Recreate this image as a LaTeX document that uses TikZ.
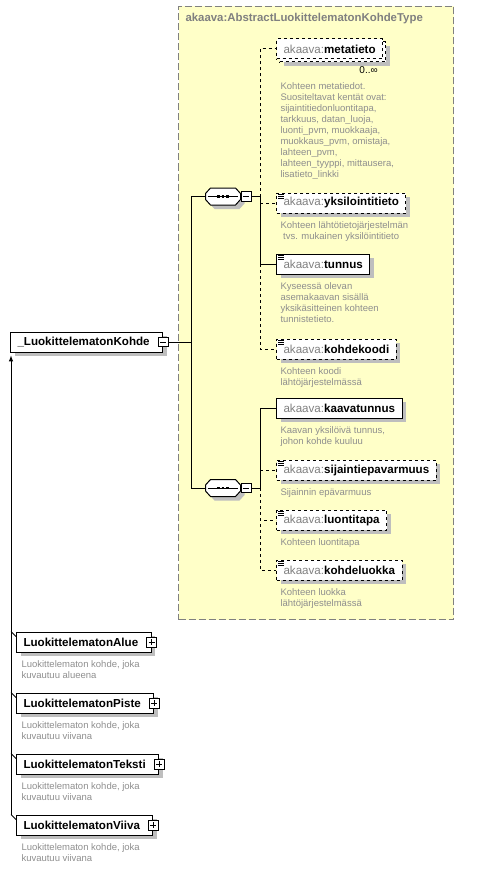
\documentclass[tikz,border=0pt]{standalone}
\usepackage{fontspec}
\setmainfont{Liberation Sans}
\usetikzlibrary{arrows,positioning,shadows}
\definecolor{typebg}{HTML}{FFFFC8}
\definecolor{prefixgray}{HTML}{808080}
\definecolor{docgray}{HTML}{8E8E8E}
\definecolor{shadowgray}{HTML}{BEBEBE}
\newcommand{\ak}[1]{{\mdseries\color{prefixgray}akaava:}#1}

\begin{document}
\begin{tikzpicture}[x=1pt,y=-1pt,line width=1pt,>=latex,
  shad/.style={drop shadow={shadow xshift=#1,shadow yshift=-#1,fill=shadowgray,opacity=1}},
  shad/.default=4pt,
  box/.style={draw,fill=white,anchor=west,minimum height=20pt,inner xsep=7pt,inner ysep=0pt,
    font=\fontsize{11.6}{13}\selectfont\bfseries},
  elem/.style={box,shad},
  opt/.style={elem,dashed},
  multi/.style={copy shadow={shadow xshift=3pt,shadow yshift=-3pt,draw,dashed,fill=white}},
  doc/.style={path picture={\foreach \i in {1.5pt,3.5pt,5.5pt}
    \draw[solid,line width=.8pt] ([xshift=1.5pt,yshift=-\i]path picture bounding box.north west) -- +(6pt,0pt);}},
  seq/.style={minimum width=34pt,minimum height=16pt,inner sep=0pt},
  minus/.style={draw,fill=white,solid,line width=.8pt,minimum width=10pt,minimum height=9.5pt,inner sep=0pt,
    path picture={\draw ([xshift=2pt]path picture bounding box.west) -- ([xshift=-2pt]path picture bounding box.east);}},
  plus/.style={draw,fill=white,solid,line width=.8pt,minimum size=10pt,inner sep=0pt,
    path picture={\draw ([xshift=2pt]path picture bounding box.west) -- ([xshift=-2pt]path picture bounding box.east);
      \draw ([yshift=-2pt]path picture bounding box.north) -- ([yshift=2pt]path picture bounding box.south);}},
  derived/.style={elem,execute at end node=\hspace{6pt}},
  desc/.style={anchor=north west,align=left,inner sep=0pt,text=docgray,font=\fontsize{9.5}{11}\selectfont}]
  \useasboundingbox (0,0) rectangle (476,869);

  \node[draw=prefixgray,dashed,dash pattern=on 7pt off 3pt,fill=typebg,minimum width=275pt,minimum height=613pt,
    anchor=north west,inner sep=0pt] (typeframe) at (178,6) {};
  \node[anchor=west,inner sep=0pt,text=prefixgray,font=\fontsize{11.4}{13}\selectfont\bfseries] (typename)
    at (185,19) {akaava:AbstractLuokittelematonKohdeType};

  \node[derived] (kohde) at (10,342) {\_LuokittelematonKohde};
  \node[minus] (kohdeTog) at (kohde.east) {};

  \node[seq] (seqA) at (223,196.5) {};
  \node[seq] (seqB) at (223,488) {};
  \foreach \s in {seqA,seqB}{
    \draw[fill=white,shad] ([yshift=3pt]\s.west) -- ([xshift=5pt]\s.north west) -- ([xshift=-5pt]\s.north east)
      -- ([yshift=3pt]\s.east) -- ([yshift=-3pt]\s.east) -- ([xshift=-5pt]\s.south east)
      -- ([xshift=5pt]\s.south west) -- ([yshift=-3pt]\s.west) -- cycle;
    \draw ([xshift=2pt]\s.west) -- ([xshift=-3pt]\s.east);
    \foreach \d in {-4.5pt,0pt,4.5pt}
      \draw[line width=2.6pt] ([xshift=\d-1.4pt]\s.center) -- ([xshift=\d+1.4pt]\s.center);
  }
  \node[minus,anchor=west] (togA) at (seqA.east) {};
  \node[minus,anchor=west] (togB) at (seqB.east) {};

  \node[box,dashed,shad=7pt,multi] (metatieto) at (276,49) {\ak{metatieto}};
  \node[font=\fontsize{10}{12}\selectfont,anchor=north east,inner sep=0pt] (metaCount)
    at ([shift={(-5pt,-7pt)}]metatieto.south east) {0..∞};
  \node[desc,below right=23pt and 4pt of metatieto.south west] (metaDoc) {Kohteen metatiedot.\\Suositeltavat kentät ovat:\\
    sijaintitiedonluontitapa,\\tarkkuus, datan\_luoja,\\luonti\_pvm, muokkaaja,\\muokkaus\_pvm, omistaja,\\
    lahteen\_pvm,\\lahteen\_tyyppi, mittausera,\\lisatieto\_linkki};

  \node[opt,doc] (yksil) at (276,203) {\ak{yksilointitieto}};
  \node[desc,below right=8pt and 4pt of yksil.south west] (yksilDoc) {Kohteen lähtötietojärjestelmän\\\ tvs. mukainen yksilöintitieto};
  \node[elem,doc] (tunnus) at (276,264) {\ak{tunnus}};
  \node[desc,below right=8pt and 4pt of tunnus.south west] (tunnusDoc) {Kyseessä olevan\\asemakaavan sisällä\\yksikäsitteinen kohteen\\tunnistetieto.};
  \node[opt,doc] (kohdekoodi) at (276,349) {\ak{kohdekoodi}};
  \node[desc,below right=8pt and 4pt of kohdekoodi.south west] (kohdekoodiDoc) {Kohteen koodi\\lähtöjärjestelmässä};

  \node[elem] (kaavatunnus) at (276,408) {\ak{kaavatunnus}};
  \node[desc,below right=8pt and 4pt of kaavatunnus.south west] (kaavatunnusDoc) {Kaavan yksilöivä tunnus,\\johon kohde kuuluu};
  \node[opt,doc] (sijainti) at (276,470) {\ak{sijaintiepavarmuus}};
  \node[desc,below right=8pt and 4pt of sijainti.south west] (sijaintiDoc) {Sijainnin epävarmuus};
  \node[opt,doc] (luontitapa) at (276,520) {\ak{luontitapa}};
  \node[desc,below right=8pt and 4pt of luontitapa.south west] (luontitapaDoc) {Kohteen luontitapa};
  \node[opt,doc] (kohdeluokka) at (276,570) {\ak{kohdeluokka}};
  \node[desc,below right=8pt and 4pt of kohdeluokka.south west] (kohdeluokkaDoc) {Kohteen luokka\\lähtöjärjestelmässä};

  \node[derived] (alue) at (16,642) {LuokittelematonAlue};
  \node[plus] (alueTog) at (alue.east) {};
  \node[desc,below right=8pt and 5pt of alue.south west] (alueDoc) {Luokittelematon kohde, joka\\kuvautuu alueena};
  \node[derived] (piste) at (16,703) {LuokittelematonPiste};
  \node[plus] (pisteTog) at (piste.east) {};
  \node[desc,below right=8pt and 5pt of piste.south west] (pisteDoc) {Luokittelematon kohde, joka\\kuvautuu viivana};
  \node[derived] (teksti) at (16,764) {LuokittelematonTeksti};
  \node[plus] (tekstiTog) at (teksti.east) {};
  \node[desc,below right=8pt and 5pt of teksti.south west] (tekstiDoc) {Luokittelematon kohde, joka\\kuvautuu viivana};
  \node[derived] (viiva) at (16,825) {LuokittelematonViiva};
  \node[plus] (viivaTog) at (viiva.east) {};
  \node[desc,below right=8pt and 5pt of viiva.south west] (viivaDoc) {Luokittelematon kohde, joka\\kuvautuu viivana};

  \coordinate (busA) at (260,196.5);
  \coordinate (busB) at (260,488);
  \coordinate (trunk) at (191,342);
  \coordinate (inh) at (11,0);

  \draw[dashed] (busA) |- (metatieto.west);
  \draw[dashed] (busA |- yksil.west) -- (yksil.west);
  \draw[dashed] (busA |- tunnus.west) |- (kohdekoodi.west);
  \draw[dashed] (busB |- sijainti.west) -- (sijainti.west);
  \draw[dashed] (busB) |- (luontitapa.west);
  \draw[dashed] (busB) |- (kohdeluokka.west);
  \draw (togA.east) -- (busA) |- (tunnus.west);
  \draw (togB.east) -- (busB) |- (kaavatunnus.west);
  \draw (kohdeTog.east) -- (trunk);
  \draw (seqA.west) -- (trunk |- seqA.west) -- (trunk |- seqB.west) -- (seqB.west);

  \draw[->,shorten >=3pt] (inh |- viiva.north west) -- (inh |- kohde.south);
  \foreach \d in {alue,piste,teksti,viiva}
    \draw (inh |- \d.north west) -- ([yshift=-5pt]\d.north west);
\end{tikzpicture}
\end{document}
